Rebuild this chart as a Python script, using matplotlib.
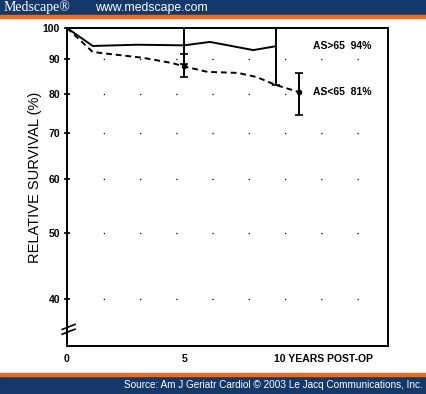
import numpy as np
import matplotlib.pyplot as plt
from matplotlib.patches import Rectangle

# survival curves (years post-op, relative survival %)
years_old = [0, 1.1, 3.0, 5.0, 6.1, 7.95, 8.9]
surv_old = [100, 94.1, 94.5, 94.3, 95.4, 92.8, 94.0]

years_young = [0, 1.1, 3.25, 4.5, 5.0, 6.0, 7.3, 8.1, 8.9, 9.9]
surv_young = [100, 92.2, 90.4, 88.8, 87.8, 86.2, 85.9, 84.7, 82.5, 80.5]

# error bars: x, value, upper, lower
err_old_x = [5.0, 8.9]
err_old_y = [94.3, 94.0]
err_old_hi = [100, 100]
err_old_lo = [88.5, 82.5]

err_young_x = [5.0, 9.9]
err_young_y = [87.8, 80.5]
err_young_hi = [91.5, 85.9]
err_young_lo = [84.7, 74.5]

yticks = [100, 90, 80, 70, 60, 50, 40]

navy = '#15386a'
orange = '#f26b1d'

fig = plt.figure(figsize=(4.27, 3.94), dpi=100)
fig.patch.set_facecolor('white')

## header / footer bands
fig.add_artist(Rectangle((0, 1 - 15/394), 1, 15/394, transform=fig.transFigure, color=navy, zorder=0))
fig.add_artist(Rectangle((0, 1 - 18/394), 1, 3/394, transform=fig.transFigure, color=orange, zorder=0))
fig.add_artist(Rectangle((0, 0), 1, 18/394, transform=fig.transFigure, color=navy, zorder=0))
fig.add_artist(Rectangle((0, 18/394), 1, 3/394, transform=fig.transFigure, color=orange, zorder=0))
fig.text(4/427, 1 - 7/394, 'Medscape\u00ae', color='white', fontsize=10, family='Liberation Serif', va='center')
fig.text(95/427, 1 - 7.5/394, 'www.medscape.com', color='white', fontsize=8.8, family='Liberation Sans', va='center')
fig.text(423/427, 9/394, 'Source: Am J Geriatr Cardiol \u00a9 2003 Le Jacq Communications, Inc.',
         color='white', fontsize=7.2, family='Liberation Sans', ha='right', va='center')

## main axes
ax = fig.add_axes([67/427, 48/394, 321/427, 318/394])
ax.set_yscale('log')
ax.set_ylim(34.1, 100)
ax.set_xlim(0, 13.7)

for s in ax.spines.values():
    s.set_linewidth(1.4)
    s.set_color('black')

# sparse dotted grid like the scanned original
for v in yticks[1:]:
    ax.axhline(v, color='black', lw=0.9, linestyle=(0, (1, 28)), zorder=1)

ax.plot(years_old, surv_old, color='black', lw=1.4, zorder=3)
ax.plot(years_young, surv_young, color='black', lw=1.4, linestyle=(0, (3, 2)), zorder=3)

ax.errorbar(err_old_x, err_old_y,
            yerr=[np.subtract(err_old_y, err_old_lo), np.subtract(err_old_hi, err_old_y)],
            fmt='none', ecolor='black', elinewidth=1.4, capsize=3, capthick=1.2, zorder=4)
ax.errorbar(err_young_x, err_young_y,
            yerr=[np.subtract(err_young_y, err_young_lo), np.subtract(err_young_hi, err_young_y)],
            fmt='none', ecolor='black', elinewidth=1.4, capsize=3, capthick=1.2, zorder=4)
ax.plot(err_young_x, err_young_y, 'ko', ms=3, zorder=5)

ax.set_yticks(yticks)
ax.set_yticklabels([str(v) for v in yticks], fontsize=7.5, fontweight='bold', family='Liberation Sans')
ax.yaxis.set_minor_locator(plt.NullLocator())
ax.tick_params(axis='y', direction='inout', length=4, width=1.2, pad=3)
ax.set_xticks([])

ax.text(0, -0.025, '0', transform=ax.get_xaxis_transform(), ha='center', va='top',
        fontsize=7.5, fontweight='bold', family='Liberation Sans')
ax.text(5, -0.025, '5', transform=ax.get_xaxis_transform(), ha='center', va='top',
        fontsize=7.5, fontweight='bold', family='Liberation Sans')
ax.text(8.85, -0.025, '10 YEARS POST-OP', transform=ax.get_xaxis_transform(), ha='left', va='top',
        fontsize=7.5, fontweight='bold', family='Liberation Sans')

ax.text(10.5, 94.0, 'AS>65  94%', ha='left', va='center', fontsize=7.5, fontweight='bold', family='Liberation Sans')
ax.text(10.5, 80.6, 'AS<65  81%', ha='left', va='center', fontsize=7.5, fontweight='bold', family='Liberation Sans')

ax.set_ylabel('RELATIVE SURVIVAL (%)', fontsize=10.5, family='Liberation Sans')
ax.yaxis.set_label_coords(-0.078, 0.53)

# axis break mark
for dy in (0.045, 0.06):
    ax.plot([-0.015, 0.025], [dy - 0.008, dy + 0.008], transform=ax.transAxes,
            color='black', lw=1.2, clip_on=False, zorder=6)

fig.savefig('out.png', dpi=100)
